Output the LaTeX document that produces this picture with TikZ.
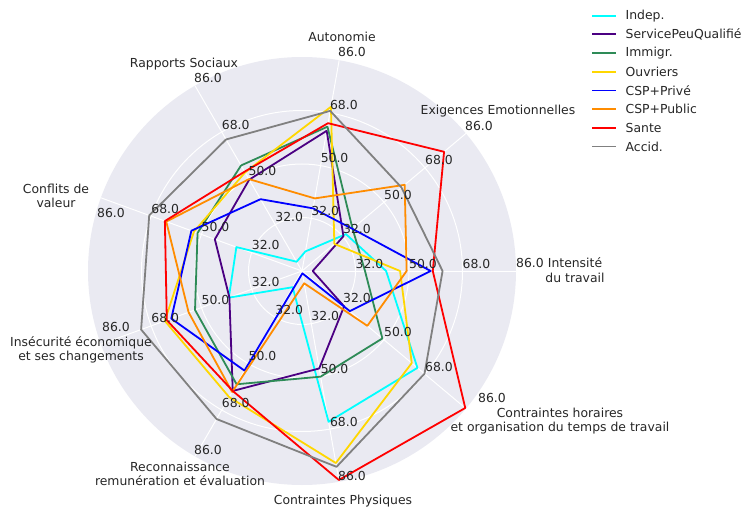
\documentclass[tikz,border=0pt]{standalone}
\usepackage{fontspec}
\setmainfont{DejaVu Sans}
\usepackage{xcolor}
\usepackage{tikz}
\usetikzlibrary{calc}

\definecolor{polarbg}{HTML}{EAEAF2}
\definecolor{labgray}{HTML}{262626}
\definecolor{aqua}{HTML}{00FFFF}
\definecolor{indigo}{HTML}{4B0082}
\definecolor{seagreen}{HTML}{2E8B57}
\definecolor{gold}{HTML}{FFD700}
\definecolor{darkorange}{HTML}{FF8C00}
\definecolor{pureblue}{HTML}{0000FF}
\definecolor{purered}{HTML}{FF0000}
\definecolor{midgray}{HTML}{808080}

% value -> radius (14 at the centre, 86 on the rim, rim = 214pt)
\newcommand{\rsc}{2.97222}
\newcommand{\radarpoly}[9]{%
  (0:{(#1-14)*\rsc}) -- (40:{(#2-14)*\rsc}) -- (80:{(#3-14)*\rsc})
  -- (120:{(#4-14)*\rsc}) -- (160:{(#5-14)*\rsc}) -- (200:{(#6-14)*\rsc})
  -- (240:{(#7-14)*\rsc}) -- (280:{(#8-14)*\rsc}) -- (320:{(#9-14)*\rsc}) -- cycle}

\begin{document}
\begin{tikzpicture}[x=1pt,y=1pt,
    lab/.style={font=\fontsize{12.4}{14.6}\selectfont, text=labgray, inner sep=0pt},
    rlab/.style={lab, anchor=base west, yshift=3pt},
    serie/.style={line width=1.8pt, line join=round}]
    \useasboundingbox (-302,-256) rectangle (452,271);

    % polar background and grid
    \fill[polarbg] (0,0) circle (214);
    \foreach \r in {53.5,107,160.5}
        \draw[white, line width=1pt] (0,0) circle (\r);
    \foreach \a in {0,40,...,320}
        \draw[white, line width=1pt] (0,0) -- (\a:214);

    % the eight profiles
    \draw[serie, aqua]       \radarpoly{42.3}{33.3}{20.7}{17.6}{37.5}{40.2}{20.3}{65.5}{64.7};
    \draw[serie, indigo]     \radarpoly{17.6}{32.2}{61.9}{49.5}{45.2}{40.0}{60.6}{47.3}{32.5};
    \draw[serie, seagreen]   \radarpoly{35.2}{36.2}{63.3}{55.0}{51.4}{52.3}{58.0}{50.1}{49.3};
    \draw[serie, gold]       \radarpoly{47.0}{28.2}{70.1}{52.3}{52.7}{63.1}{63.0}{79.6}{62.2};
    \draw[serie, pureblue]   \radarpoly{57.3}{36.1}{35.4}{41.9}{53.6}{60.8}{52.7}{14.8}{35.0};
    \draw[serie, darkorange] \radarpoly{49.2}{59.1}{38.8}{49.7}{62.6}{54.6}{61.0}{18.2}{42.7};
    \draw[serie, purered]    \radarpoly{58.0}{76.4}{64.5}{52.6}{63.1}{62.4}{60.6}{85.4}{85.7};
    \draw[serie, midgray]    \radarpoly{61.3}{57.7}{68.7}{65.1}{68.7}{71.6}{71.5}{80.9}{67.8};

    % scale labels on every axis
    \foreach \a in {0,40,...,320} {
        \node[rlab] (s32-\a) at (\a:53.5) {32.0};
        \node[rlab] (s50-\a) at (\a:107) {50.0};
        \node[rlab] (s68-\a) at (\a:160.5) {68.0};
    }
    \foreach \p/\q [count=\i] in {228/8, 177/145, 50/219, -94/193, -191/58,
                                  -186/-56, -94/-179, 50/-205, 190/-127}
        \node[lab] (s86-\i) at (\p,\q) {86.0};

    % axis names
    \node[lab, align=center] (intens) at (273,1) {Intensité\\du travail};
    \node[lab] (exig) at (196,160) {Exigences Emotionnelles};
    \node[lab] (auton) at (40,234) {Autonomie};
    \node[lab] (rapp) at (-118,207) {Rapports Sociaux};
    \node[lab, align=center] (confl) at (-246,75) {Conflits de\\valeur};
    \node[lab, align=center] (insec) at (-221,-79) {Insécurité économique\\et ses changements};
    \node[lab, align=center] (recon) at (-122,-203) {Reconnaissance\\remunération et évaluation};
    \node[lab] (physq) at (41,-230) {Contraintes Physiques};
    \node[lab, align=center] (horai) at (258,-150) {Contraintes horaires\\et organisation du temps de travail};

    % legend
    \foreach \col/\txt [count=\k from 0] in {aqua/Indep., indigo/ServicePeuQualifié,
            seagreen/Immigr., gold/Ouvriers, pureblue/CSP+Privé, darkorange/CSP+Public,
            purered/Sante, midgray/Accid.} {
        \draw[serie, \col] (290,{255.3-18.7*\k}) -- ++(24,0);
        \node[lab, anchor=west] (leg\k) at (323.5,{255.3-18.7*\k}) {\txt};
    }
\end{tikzpicture}
\end{document}
